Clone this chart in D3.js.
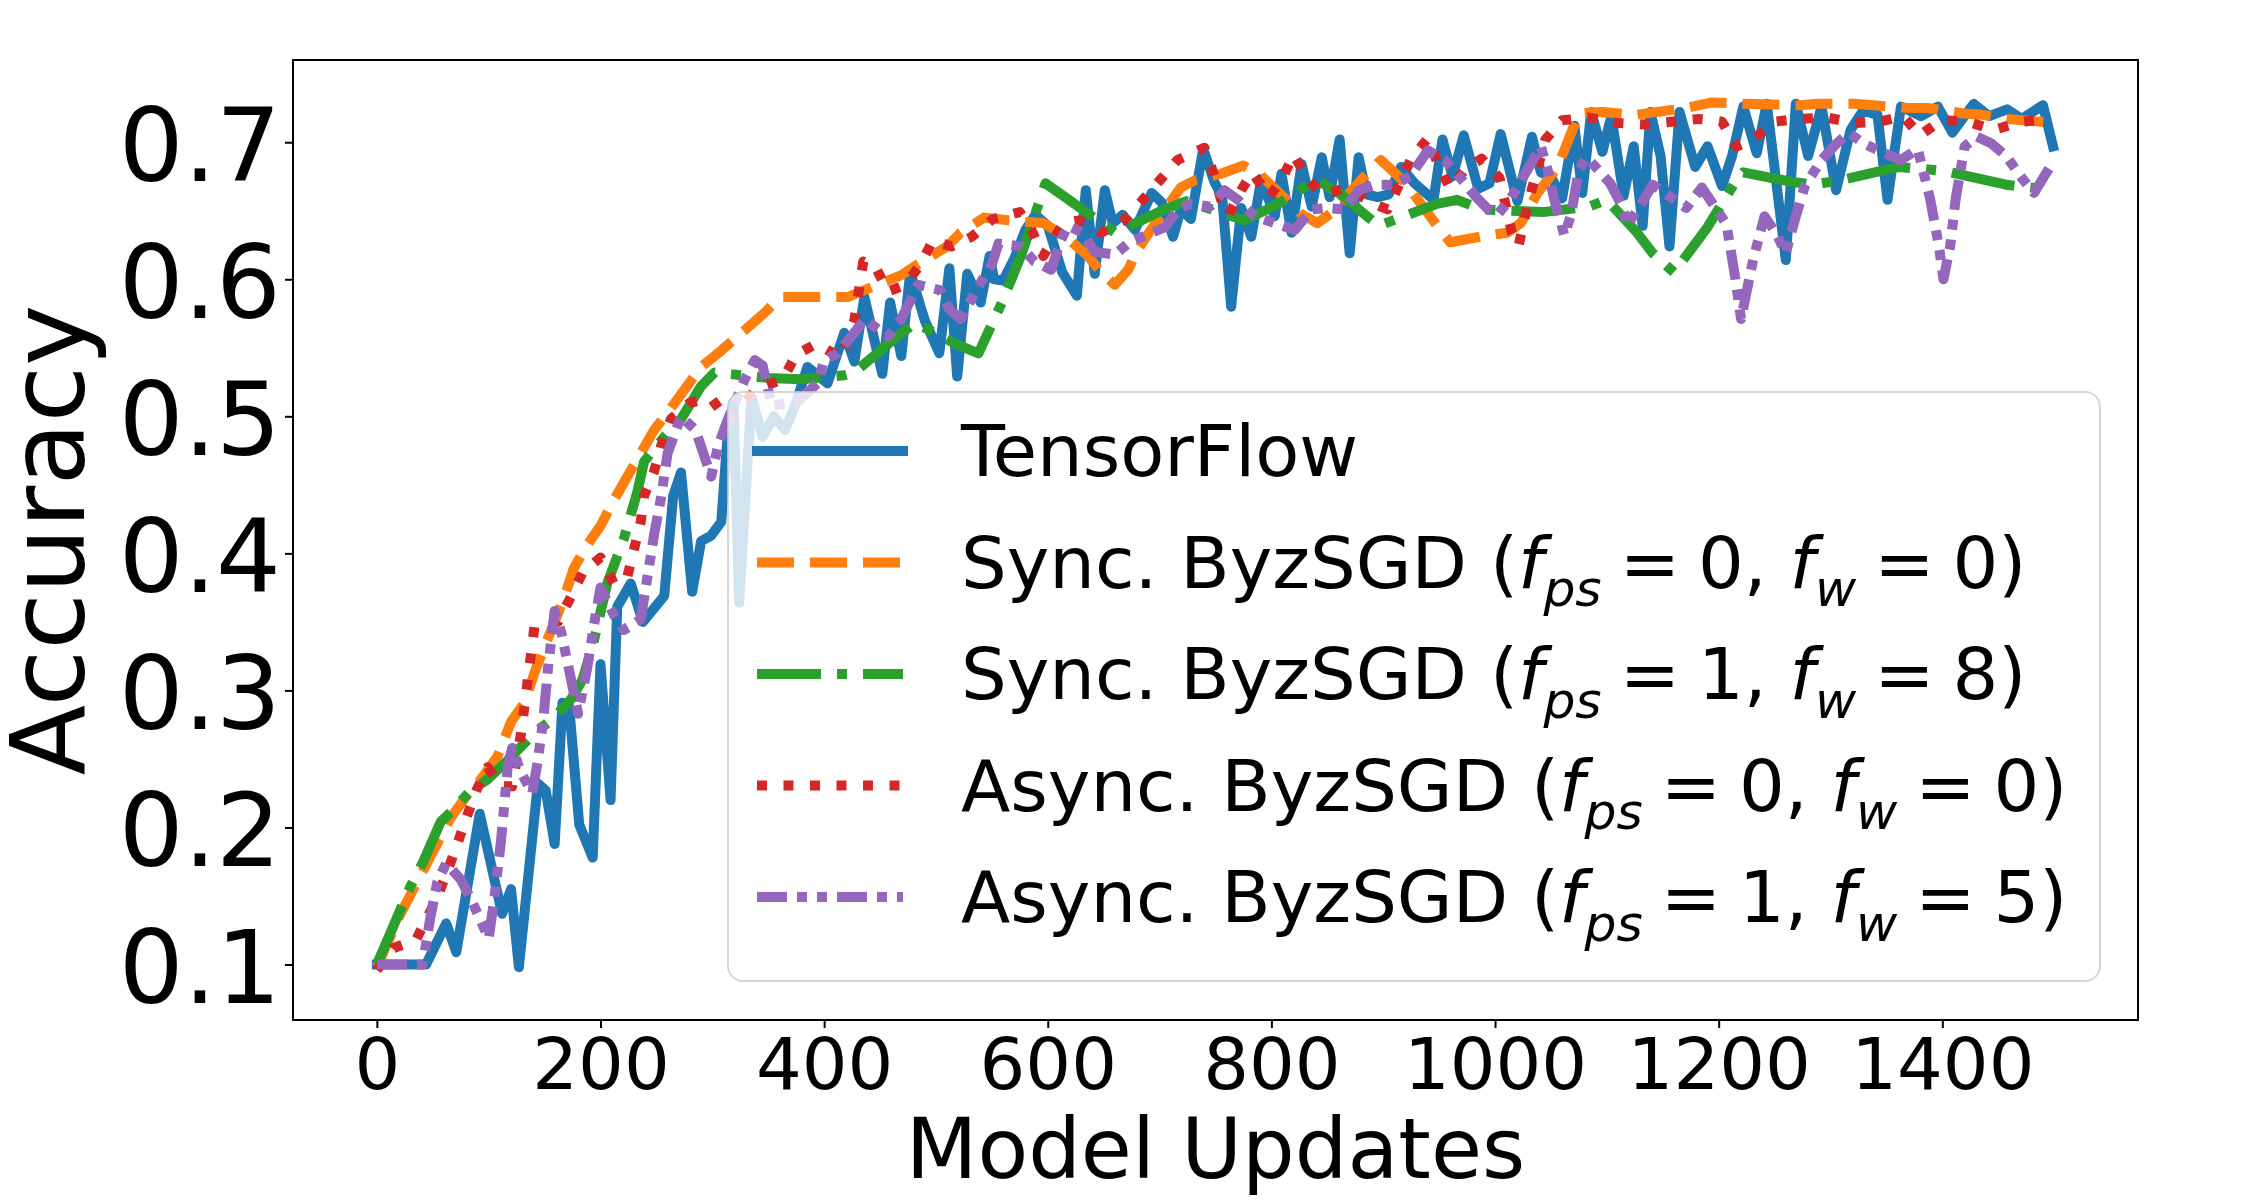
<!DOCTYPE html>
<html>
<head>
<meta charset="utf-8">
<script src="https://cdn.jsdelivr.net/npm/d3@7"></script>
<style>
  body { margin: 0; background: #fff; }
  svg { display: block; font-family: "DejaVu Sans", sans-serif; }
</style>
</head>
<body>
<svg id="chart"></svg>
<script>
// Data: [model updates, accuracy]
const tensorflow = [[0,0.100],[22,0.100],[44,0.100],[62,0.130],[71,0.109],[92,0.210],[112,0.137],[120,0.155],[127,0.098],[144,0.232],[151,0.227],[159,0.188],[166,0.291],[172,0.288],[181,0.202],[193,0.178],[200,0.319],[209,0.220],[215,0.361],[227,0.378],[238,0.350],[257,0.369],[265,0.442],[272,0.459],[282,0.372],[290,0.409],[299,0.413],[308,0.423],[314,0.490],[319,0.510],[324,0.364],[335,0.514],[345,0.485],[355,0.500],[365,0.490],[375,0.510],[385,0.536],[403,0.524],[418,0.561],[427,0.540],[436,0.587],[452,0.531],[459,0.583],[469,0.544],[477,0.605],[490,0.570],[503,0.546],[512,0.608],[519,0.529],[528,0.604],[540,0.583],[548,0.617],[552,0.600],[560,0.599],[570,0.615],[580,0.636],[589,0.647],[600,0.639],[613,0.605],[626,0.588],[634,0.665],[642,0.604],[651,0.665],[658,0.641],[667,0.647],[678,0.636],[693,0.663],[702,0.656],[712,0.631],[719,0.651],[728,0.644],[739,0.695],[749,0.671],[756,0.660],[764,0.580],[773,0.652],[782,0.631],[791,0.673],[803,0.646],[809,0.677],[818,0.634],[827,0.684],[836,0.653],[845,0.689],[852,0.660],[861,0.702],[870,0.619],[878,0.689],[885,0.662],[895,0.660],[905,0.662],[916,0.682],[928,0.670],[945,0.658],[953,0.702],[962,0.675],[972,0.705],[985,0.666],[995,0.670],[1005,0.706],[1020,0.657],[1033,0.704],[1041,0.678],[1050,0.675],[1060,0.659],[1071,0.712],[1078,0.663],[1086,0.722],[1096,0.693],[1104,0.719],[1115,0.661],[1124,0.697],[1132,0.639],[1139,0.722],[1148,0.690],[1156,0.624],[1165,0.722],[1179,0.682],[1190,0.697],[1203,0.668],[1212,0.690],[1222,0.726],[1234,0.692],[1243,0.728],[1260,0.614],[1269,0.728],[1280,0.690],[1292,0.726],[1305,0.665],[1318,0.709],[1329,0.723],[1342,0.720],[1351,0.658],[1363,0.726],[1381,0.719],[1396,0.726],[1409,0.707],[1428,0.728],[1442,0.719],[1458,0.724],[1471,0.717],[1490,0.727],[1499,0.697]];

const syncF0 = [[0,0.098],[20,0.135],[39,0.165],[57,0.193],[66,0.207],[81,0.224],[93,0.235],[108,0.252],[120,0.277],[132,0.291],[141,0.313],[149,0.330],[159,0.350],[168,0.369],[176,0.389],[188,0.406],[200,0.420],[212,0.439],[224,0.456],[236,0.473],[248,0.490],[263,0.506],[290,0.536],[308,0.548],[332,0.565],[346,0.575],[361,0.587],[373,0.587],[421,0.587],[436,0.592],[469,0.603],[484,0.611],[510,0.624],[522,0.634],[543,0.645],[565,0.643],[596,0.641],[616,0.631],[636,0.617],[648,0.605],[660,0.596],[672,0.607],[680,0.621],[698,0.643],[719,0.667],[731,0.672],[755,0.677],[775,0.683],[790,0.676],[811,0.660],[826,0.648],[841,0.641],[853,0.648],[883,0.675],[898,0.687],[919,0.671],[931,0.658],[951,0.636],[960,0.627],[993,0.632],[1011,0.634],[1023,0.641],[1038,0.663],[1056,0.682],[1075,0.721],[1096,0.722],[1126,0.720],[1171,0.725],[1194,0.729],[1224,0.728],[1272,0.727],[1289,0.728],[1321,0.728],[1338,0.727],[1370,0.725],[1387,0.725],[1419,0.721],[1436,0.720],[1459,0.717],[1500,0.714]];

const syncF1 = [[0,0.100],[30,0.157],[42,0.176],[57,0.204],[66,0.211],[84,0.227],[99,0.235],[117,0.249],[141,0.269],[157,0.279],[174,0.294],[184,0.308],[194,0.336],[206,0.378],[221,0.411],[233,0.445],[239,0.467],[257,0.485],[272,0.498],[290,0.522],[302,0.532],[326,0.530],[350,0.528],[379,0.527],[418,0.530],[427,0.532],[462,0.556],[481,0.568],[499,0.561],[517,0.553],[538,0.546],[559,0.583],[576,0.617],[598,0.670],[619,0.658],[636,0.648],[660,0.634],[684,0.643],[704,0.651],[724,0.657],[776,0.643],[796,0.651],[812,0.658],[840,0.673],[864,0.661],[878,0.651],[896,0.639],[948,0.655],[966,0.658],[988,0.651],[1043,0.649],[1084,0.653],[1100,0.658],[1126,0.635],[1141,0.619],[1160,0.605],[1190,0.638],[1214,0.670],[1222,0.678],[1266,0.671],[1284,0.669],[1307,0.672],[1361,0.682],[1402,0.679],[1457,0.669],[1499,0.665]];

const asyncF0 = [[0,0.096],[15,0.112],[35,0.118],[54,0.149],[63,0.168],[72,0.188],[80,0.207],[89,0.227],[99,0.244],[111,0.230],[121,0.230],[129,0.269],[135,0.308],[141,0.347],[152,0.350],[162,0.350],[174,0.369],[184,0.386],[200,0.397],[212,0.378],[224,0.383],[230,0.403],[236,0.423],[239,0.442],[248,0.460],[254,0.478],[263,0.498],[280,0.510],[299,0.513],[314,0.497],[340,0.520],[363,0.527],[375,0.545],[393,0.553],[415,0.543],[427,0.570],[435,0.613],[446,0.609],[457,0.591],[473,0.596],[487,0.612],[497,0.628],[514,0.624],[532,0.631],[551,0.644],[575,0.649],[586,0.635],[596,0.617],[614,0.641],[628,0.643],[648,0.634],[668,0.643],[684,0.657],[700,0.672],[716,0.687],[740,0.696],[748,0.678],[755,0.658],[762,0.647],[773,0.665],[783,0.678],[798,0.660],[810,0.674],[820,0.691],[832,0.673],[847,0.662],[868,0.667],[889,0.656],[904,0.651],[925,0.688],[940,0.703],[949,0.684],[960,0.666],[973,0.680],[988,0.688],[1004,0.674],[1015,0.634],[1021,0.624],[1026,0.643],[1032,0.663],[1045,0.702],[1060,0.716],[1084,0.718],[1109,0.714],[1133,0.713],[1158,0.715],[1182,0.717],[1203,0.715],[1216,0.697],[1231,0.702],[1250,0.715],[1272,0.717],[1297,0.718],[1321,0.714],[1344,0.715],[1365,0.719],[1380,0.705],[1399,0.716],[1423,0.715],[1446,0.709],[1471,0.715],[1495,0.717]];

const asyncF1 = [[0,0.100],[27,0.100],[41,0.100],[48,0.135],[54,0.160],[62,0.174],[75,0.162],[84,0.148],[100,0.119],[105,0.148],[111,0.190],[117,0.244],[121,0.258],[129,0.240],[139,0.225],[144,0.249],[149,0.280],[153,0.316],[159,0.358],[165,0.342],[180,0.283],[188,0.316],[194,0.347],[200,0.375],[212,0.355],[221,0.344],[236,0.352],[248,0.414],[254,0.440],[260,0.473],[272,0.500],[285,0.490],[299,0.456],[305,0.478],[314,0.498],[329,0.527],[338,0.541],[345,0.537],[353,0.508],[375,0.510],[394,0.524],[400,0.541],[412,0.546],[427,0.561],[436,0.571],[457,0.558],[469,0.571],[484,0.596],[504,0.592],[512,0.578],[522,0.571],[538,0.595],[550,0.611],[556,0.626],[576,0.624],[588,0.613],[603,0.607],[612,0.629],[618,0.639],[631,0.634],[642,0.620],[660,0.618],[673,0.627],[690,0.633],[705,0.638],[717,0.652],[728,0.655],[745,0.653],[758,0.665],[770,0.658],[785,0.646],[803,0.641],[821,0.636],[836,0.651],[850,0.652],[866,0.651],[878,0.665],[893,0.669],[909,0.669],[924,0.675],[940,0.694],[955,0.687],[968,0.675],[982,0.661],[994,0.651],[1002,0.647],[1014,0.659],[1029,0.680],[1041,0.697],[1047,0.680],[1053,0.658],[1062,0.632],[1068,0.647],[1075,0.680],[1082,0.689],[1103,0.670],[1115,0.651],[1118,0.639],[1130,0.654],[1141,0.669],[1171,0.652],[1185,0.667],[1207,0.640],[1215,0.600],[1220,0.571],[1231,0.615],[1241,0.646],[1251,0.634],[1260,0.619],[1269,0.646],[1277,0.668],[1292,0.687],[1303,0.697],[1316,0.707],[1330,0.699],[1348,0.692],[1363,0.687],[1378,0.695],[1389,0.659],[1397,0.624],[1401,0.600],[1407,0.624],[1412,0.659],[1420,0.697],[1431,0.704],[1444,0.699],[1457,0.690],[1472,0.673],[1482,0.663],[1491,0.675],[1500,0.687]];

const xTicks = [0, 200, 400, 600, 800, 1000, 1200, 1400];
const yTicks = [0.1, 0.2, 0.3, 0.4, 0.5, 0.6, 0.7];

const seriesNames = ['TensorFlow', 'Sync. ByzSGD', 'Sync. ByzSGD', 'Async. ByzSGD', 'Async. ByzSGD'];
const fpsValues = [null, 0, 1, 0, 1];
const fwValues = [null, 0, 8, 0, 5];

// Layout
let width = 2250, height = 1200;
let plotLeft = 293, plotRight = 2138, plotTop = 60, plotBottom = 1020;
let lw = 10;

let series = [
    { data: tensorflow, color: '#1f77b4', dash: null },
    { data: syncF0, color: '#ff7f0e', dash: [3.7, 1.6] },
    { data: syncF1, color: '#2ca02c', dash: [6.4, 1.6, 1, 1.6] },
    { data: asyncF0, color: '#d62728', dash: [1, 1.65] },
    { data: asyncF1, color: '#9467bd', dash: [3, 1, 1, 1, 1, 1] }
];

let svg = d3.select('#chart').attr('width', width).attr('height', height);
svg.append('rect').attr('width', width).attr('height', height).attr('fill', '#fff');

let xScale = d3.scaleLinear().domain([-75, 1575]).range([plotLeft, plotRight]);
let yScale = d3.scaleLinear().domain([0.0595, 0.760]).range([plotBottom, plotTop]);

// Clip to the axes area
svg.append('clipPath').attr('id', 'plot-clip')
    .append('rect')
    .attr('x', plotLeft).attr('y', plotTop)
    .attr('width', plotRight - plotLeft).attr('height', plotBottom - plotTop);

let line = d3.line()
    .x((d) => xScale(d[0]))
    .y((d) => yScale(d[1]));

let plot = svg.append('g').attr('clip-path', 'url(#plot-clip)');

series.forEach((s) => {
    plot.append('path')
        .datum(s.data)
        .attr('d', line)
        .attr('fill', 'none')
        .attr('stroke', s.color)
        .attr('stroke-width', lw)
        .attr('stroke-linejoin', 'round')
        .attr('stroke-linecap', s.dash ? 'butt' : 'square')
        .attr('stroke-dasharray', s.dash ? s.dash.map((v) => v * lw).join(',') : null);
});

// Axes
let xAxis = d3.axisBottom(xScale).tickValues(xTicks).tickSize(8).tickPadding(8).tickFormat(d3.format('d'));
let gx = svg.append('g')
    .attr('transform', `translate(0, ${plotBottom})`)
    .call(xAxis);
gx.select('.domain').remove();
gx.selectAll('.tick line').attr('stroke', '#000').attr('stroke-width', 2);
gx.selectAll('.tick text')
    .attr('fill', '#000')
    .attr('font-size', 72)
    .attr('font-family', 'DejaVu Sans')
    .attr('dy', null)
    .attr('y', 69);

let yAxis = d3.axisLeft(yScale).tickValues(yTicks).tickSize(8).tickPadding(8).tickFormat(d3.format('.1f'));
let gy = svg.append('g')
    .attr('transform', `translate(${plotLeft}, 0)`)
    .call(yAxis);
gy.select('.domain').remove();
gy.selectAll('.tick line').attr('stroke', '#000').attr('stroke-width', 2);
gy.selectAll('.tick text')
    .attr('fill', '#000')
    .attr('font-size', 102)
    .attr('font-family', 'DejaVu Sans')
    .attr('x', -12)
    .attr('dy', null)
    .attr('y', 38);

// Frame
svg.append('rect')
    .attr('x', plotLeft).attr('y', plotTop)
    .attr('width', plotRight - plotLeft).attr('height', plotBottom - plotTop)
    .attr('fill', 'none')
    .attr('stroke', '#000')
    .attr('stroke-width', 2);

// Axis labels
svg.append('text')
    .attr('x', (plotLeft + plotRight) / 2)
    .attr('y', 1178)
    .attr('text-anchor', 'middle')
    .attr('font-size', 83)
    .text('Model Updates');

svg.append('text')
    .attr('transform', `translate(84, ${(plotTop + plotBottom) / 2}) rotate(-90)`)
    .attr('text-anchor', 'middle')
    .attr('font-size', 103)
    .text('Accuracy');

// Legend
let legend = svg.append('g').attr('id', 'legend');
legend.append('rect')
    .attr('x', 728).attr('y', 392)
    .attr('width', 2100 - 728).attr('height', 981 - 392)
    .attr('rx', 15).attr('ry', 15)
    .attr('fill', '#fff').attr('fill-opacity', 0.8)
    .attr('stroke', '#cccccc').attr('stroke-opacity', 0.8)
    .attr('stroke-width', 2);

let legendFont = 72;
let sub = 0.26 * legendFont;
let gap = '\u2005';

series.forEach((s, i) => {
    let yRow = 451 + i * 111.5;
    legend.append('line')
        .attr('x1', 757).attr('x2', 903)
        .attr('y1', yRow).attr('y2', yRow)
        .attr('stroke', s.color)
        .attr('stroke-width', lw)
        .attr('stroke-linecap', s.dash ? 'butt' : 'square')
        .attr('stroke-dasharray', s.dash ? s.dash.map((v) => v * lw).join(',') : null);

    let t = legend.append('text')
        .attr('x', 961)
        .attr('y', yRow + 25)
        .attr('font-size', legendFont);

    if (fpsValues[i] === null) {
        t.text(seriesNames[i]);
        return;
    }
    t.append('tspan').text(seriesNames[i] + ' (');
    t.append('tspan').attr('font-style', 'italic').text('f');
    t.append('tspan').attr('font-style', 'italic').attr('font-size', legendFont * 0.7).attr('dy', sub).text('ps');
    t.append('tspan').attr('dy', -sub).text(gap + '=' + gap + fpsValues[i] + ', ');
    t.append('tspan').attr('font-style', 'italic').text('f');
    t.append('tspan').attr('font-style', 'italic').attr('font-size', legendFont * 0.7).attr('dy', sub).text('w');
    t.append('tspan').attr('dy', -sub).text(gap + '=' + gap + fwValues[i] + ')');
});
</script>
</body>
</html>
